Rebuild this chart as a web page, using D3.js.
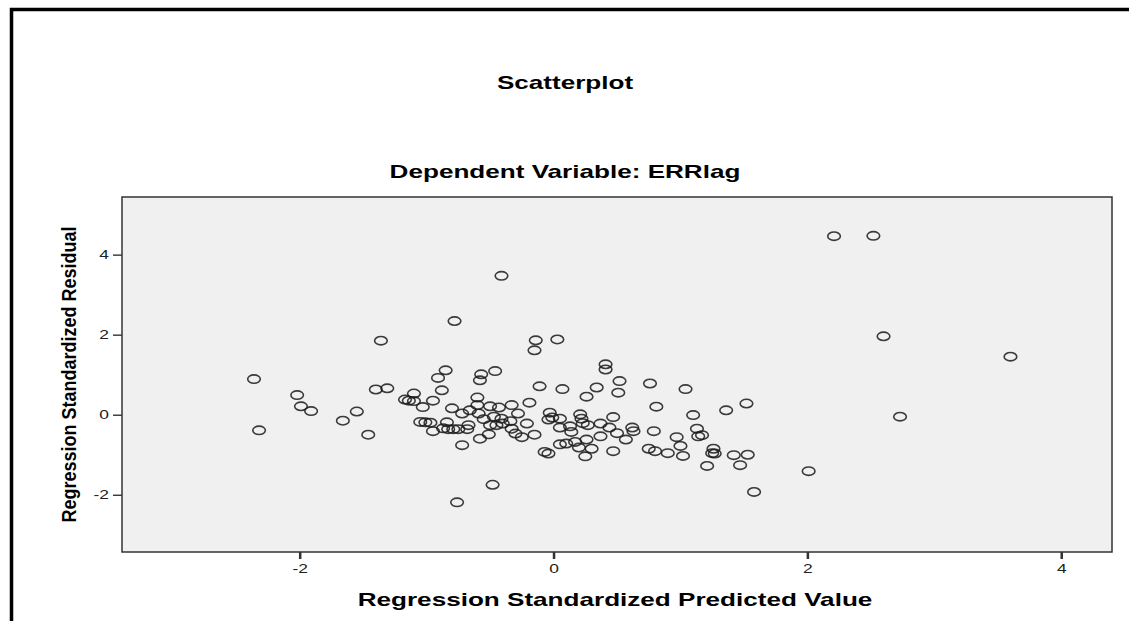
<!DOCTYPE html>
<html>
<head>
    <meta charset="utf-8">
    <title>Scatterplot</title>
    <script src="https://d3js.org/d3.v7.min.js"></script>
    <style>
        * {
            margin: 0;
            padding: 0;
            box-sizing: border-box;
        }
        body {
            background: #ffffff;
            font-family: 'Liberation Sans', Arial, sans-serif;
        }
        .title {
            font-size: 18px;
            font-weight: bold;
            fill: #000;
        }
        .tick text {
            font-size: 12px;
            fill: #222;
            font-family: 'Liberation Sans', Arial, sans-serif;
        }
        .tick line {
            stroke: #333;
        }
        .point {
            fill: none;
            stroke: #1a1a1a;
            stroke-width: 1.6;
            stroke-opacity: 0.85;
        }
    </style>
</head>
<body>
<div id="chart"></div>
<script>
    // Regression standardized predicted value (x) and residual (y)
    const predicted = [
        -2.36, -2.32, -2.02, -1.99, -1.91, -1.66, -1.55, -1.46, -1.40, -1.31, -1.36,
        -0.78, -0.85, -0.91, -0.88, -0.57, -0.58, -0.46, -1.10, -1.17, -1.14, -1.10,
        -0.95, -1.03, -0.80, -0.72, -0.66, -0.60, -0.60, -0.59, -0.50, -0.43, -0.33, -0.19,
        -0.55, -0.47, -0.41, -0.34, -0.28, -1.05, -1.01, -0.97, -0.84, -0.95, -0.87,
        -0.83, -0.79, -0.75, -0.67, -0.68, -0.50, -0.45, -0.58, -0.51, -0.72, -0.40,
        -0.33, -0.30, -0.25, -0.21, -0.15, -0.48, -0.76, -0.14, -0.15, 0.03, -0.11, 0.07,
        0.41, 0.41, 0.34, 0.52, 0.76, 0.26, 0.51, 0.81, -0.03, -0.01, -0.04, 0.05,
        0.21, 0.22, 0.23, 0.47, 0.05, 0.13, 0.14, 0.27, 0.37, 0.44, 0.37, 0.50,
        0.62, 0.63, 0.57, 0.79, 0.05, 0.10, 0.17, 0.20, 0.26, 0.30, 0.25, 0.47,
        -0.07, -0.04, 0.75, 0.80,
        1.04, 1.10, 1.36, 1.52, 0.97, 1.13, 1.14, 1.17, 1.00, 0.90, 1.02, 1.26,
        1.25, 1.27, 1.42, 1.53, 1.21, 1.47,
        2.01, 1.58, 2.21, 2.52, 2.60, 3.60, 2.73, -0.41
    ];
    const residual = [
        0.89, -0.39, 0.49, 0.21, 0.09, -0.15, 0.08, -0.50, 0.63, 0.66, 1.85,
        2.34, 1.11, 0.92, 0.61, 1.01, 0.86, 1.09, 0.53, 0.38, 0.35, 0.34,
        0.35, 0.19, 0.16, 0.03, 0.11, 0.43, 0.24, 0.03, 0.21, 0.18, 0.24, 0.30,
        -0.11, -0.05, -0.10, -0.16, 0.03, -0.18, -0.19, -0.20, -0.19, -0.41, -0.34,
        -0.36, -0.36, -0.36, -0.26, -0.36, -0.26, -0.26, -0.60, -0.49, -0.76, -0.22,
        -0.35, -0.47, -0.56, -0.22, -0.50, -1.75, -2.19, 1.86, 1.61, 1.88, 0.71, 0.64,
        1.26, 1.13, 0.68, 0.84, 0.78, 0.45, 0.55, 0.20, 0.05, -0.07, -0.12, -0.10,
        0.01, -0.10, -0.21, -0.06, -0.32, -0.29, -0.43, -0.26, -0.22, -0.32, -0.54, -0.46,
        -0.32, -0.41, -0.62, -0.41, -0.74, -0.72, -0.68, -0.82, -0.62, -0.85, -1.04, -0.91,
        -0.93, -0.97, -0.85, -0.91,
        0.64, -0.01, 0.11, 0.28, -0.56, -0.35, -0.54, -0.51, -0.78, -0.96, -1.03, -0.85,
        -0.96, -0.97, -1.01, -1.00, -1.28, -1.26,
        -1.41, -1.93, 4.46, 4.47, 1.96, 1.45, -0.05, 3.47
    ];
    const xTicks = [-2, 0, 2, 4];
    const yTicks = [-2, 0, 2, 4];
    const xDomain = [-3.4, 4.4];
    const yDomain = [-3.43, 5.44];

    const chartTitle = "Scatterplot";
    const chartSubtitle = "Dependent Variable: ERRlag";
    const xLabel = "Regression Standardized Predicted Value";
    const yLabel = "Regression Standardized Residual";

    // the original picture is stretched sideways, so text gets the same squeeze
    const SX = 1.45;

    const W = 1129, H = 621;
    const plot = {left: 122, right: 1112, top: 197, bottom: 552};

    const svg = d3.select("#chart")
        .append("svg")
        .attr("width", W)
        .attr("height", H);

    // outer frame (top and left edges only are visible)
    svg.append("path")
        .attr("d", `M11.5,${H} L11.5,9.5 L${W},9.5`)
        .attr("fill", "none")
        .attr("stroke", "#000")
        .attr("stroke-width", 3.5);

    const x = d3.scaleLinear().domain(xDomain).range([plot.left, plot.right]);
    const y = d3.scaleLinear().domain(yDomain).range([plot.bottom, plot.top]);

    function wideText(px, py, str, cls, anchor) {
        const g = svg.append("g")
            .attr("transform", `translate(${px},${py}) scale(${SX},1)`);
        return g.append("text")
            .attr("class", cls)
            .attr("text-anchor", anchor || "middle")
            .text(str);
    }

    // plain hyphen for negatives, like the SPSS output
    const fmt = d => String(d);

    // titles
    wideText(565, 89, chartTitle, "title");
    wideText(565, 178, chartSubtitle, "title");

    // plot area
    svg.append("rect")
        .attr("x", plot.left)
        .attr("y", plot.top)
        .attr("width", plot.right - plot.left)
        .attr("height", plot.bottom - plot.top)
        .attr("fill", "#f0f0f0")
        .attr("stroke", "#333")
        .attr("stroke-width", 1.5);

    // X axis
    const xAxis = svg.append("g")
        .attr("transform", `translate(0,${plot.bottom})`)
        .call(d3.axisBottom(x).tickValues(xTicks).tickSize(7).tickPadding(5).tickFormat(fmt));
    xAxis.select(".domain").remove();
    xAxis.selectAll(".tick line").attr("stroke-width", 2.5);
    xAxis.selectAll(".tick text").attr("transform", `scale(${SX},1)`);

    // Y axis
    const yAxis = svg.append("g")
        .attr("transform", `translate(${plot.left},0)`)
        .call(d3.axisLeft(y).tickValues(yTicks).tickSize(9).tickPadding(3).tickFormat(fmt));
    yAxis.select(".domain").remove();
    yAxis.selectAll(".tick line").attr("stroke-width", 1.4);
    yAxis.selectAll(".tick text")
        .attr("x", -13 / SX)
        .attr("transform", `scale(${SX},1)`);

    // axis titles
    wideText((plot.left + plot.right) / 2 - 2, 606, xLabel, "title");

    svg.append("g")
        .attr("transform", `translate(76,${(plot.top + plot.bottom) / 2}) scale(1.1,1) rotate(-90)`)
        .append("text")
        .attr("class", "title")
        .attr("text-anchor", "middle")
        .text(yLabel);

    // points
    const points = predicted.map((p, i) => ({p: p, r: residual[i]}));

    svg.append("g")
        .selectAll("ellipse")
        .data(points)
        .join("ellipse")
        .attr("class", "point")
        .attr("cx", d => x(d.p))
        .attr("cy", d => y(d.r))
        .attr("rx", 6.3)
        .attr("ry", 4.2);
</script>
</body>
</html>
